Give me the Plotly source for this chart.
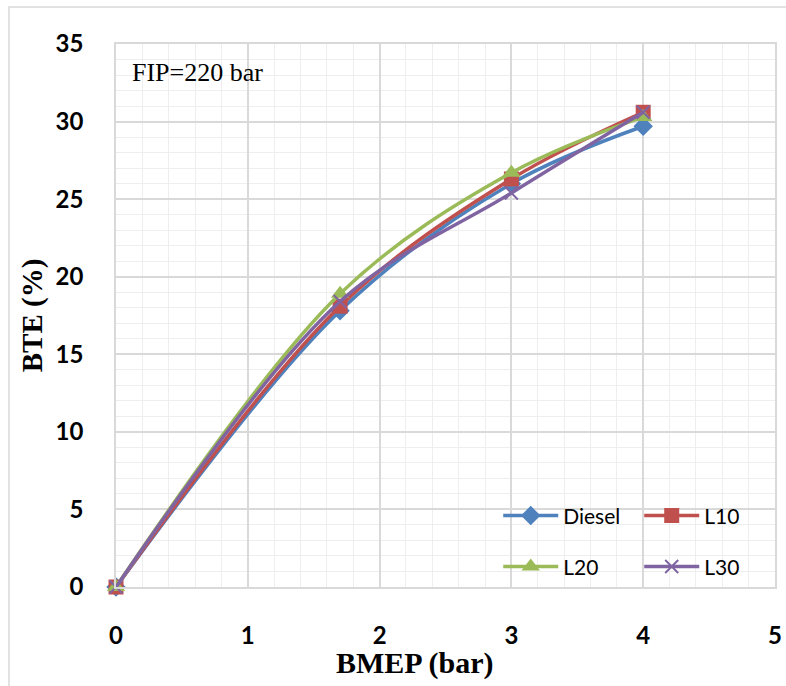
import plotly.graph_objects as go

bmep = [0, 1.7, 3, 4]
diesel = [0, 17.8, 26.0, 29.7]
l10 = [0, 18.1, 26.3, 30.6]
l20 = [0, 18.9, 26.7, 30.3]
l30 = [0, 18.4, 25.4, 30.6]

series = [
    ("Diesel", diesel, "#4F81BD", "diamond", 15, "legend"),
    ("L10", l10, "#C0504D", "square", 15, "legend"),
    ("L20", l20, "#9BBB59", "triangle-up", 16, "legend2"),
    ("L30", l30, "#8064A2", "x-thin", 13, "legend2"),
]

fig = go.Figure()
for name, ys, color, sym, size, lg in series:
    marker = dict(symbol=sym, size=size, color=color)
    if sym == "x-thin":
        marker["line"] = dict(color=color, width=2)
    fig.add_trace(go.Scatter(
        x=bmep, y=ys, name=name, mode="lines+markers",
        line=dict(color=color, width=3.5, shape="spline"),
        marker=marker, legend=lg, cliponaxis=False,
    ))

axis_common = dict(
    showgrid=True, gridcolor="#D9D9D9", gridwidth=1.5,
    zeroline=False, showline=True, linecolor="#D9D9D9", linewidth=1.5, mirror=True,
    tickfont=dict(family="Lato", size=24, color="#000000"),
    ticks="outside", ticklen=0,
    tickprefix="<b>", ticksuffix="</b>",
)

fig.update_xaxes(
    range=[0, 5], dtick=1, tick0=0,
    minor=dict(dtick=0.2, showgrid=True, gridcolor="#EEEEEE", gridwidth=1),
    ticklabelstandoff=26,
    **axis_common,
)
fig.update_yaxes(
    range=[0, 35], dtick=5, tick0=0,
    minor=dict(dtick=1, showgrid=True, gridcolor="#EEEEEE", gridwidth=1),
    title=dict(text="<b>BTE (%)</b>", font=dict(family="Liberation Serif", size=29, color="#000"), standoff=4),
    ticklabelstandoff=26,
    **axis_common,
)

legend_style = dict(
    orientation="h", entrywidth=71, entrywidthmode="pixels",
    bgcolor="rgba(255,255,255,0)", font=dict(family="Lato", size=21, color="#000"),
    xanchor="left", yanchor="middle", itemwidth=55,
)
fig.update_layout(
    width=786, height=686,
    margin=dict(l=116, r=11, t=44, b=99, autoexpand=False),
    paper_bgcolor="white", plot_bgcolor="white",
    legend=dict(x=0.580, y=0.131, **legend_style),
    legend2=dict(x=0.580, y=0.037, **legend_style),
    annotations=[
        dict(
            text="FIP=220 bar", xref="paper", yref="paper", x=0.022, y=0.948,
            xanchor="left", yanchor="middle", showarrow=False,
            font=dict(family="Liberation Serif", size=26, color="#000"),
        ),
        dict(
            text="<b>BMEP (bar)</b>", xref="paper", yref="paper",
            x=(415 - 116) / 659, y=-(663 - 587) / 543,
            xanchor="center", yanchor="middle", showarrow=False,
            font=dict(family="Liberation Serif", size=30, color="#000"),
        ),
    ],
    shapes=[dict(
        type="rect", xref="paper", yref="paper",
        x0=-107/659, x1=(800-116)/659, y0=-(700-587)/543, y1=(587-7)/543,
        line=dict(color="#D9D9D9", width=1.5), fillcolor="rgba(0,0,0,0)", layer="below",
    )],
)

fig.write_html("out.html")
